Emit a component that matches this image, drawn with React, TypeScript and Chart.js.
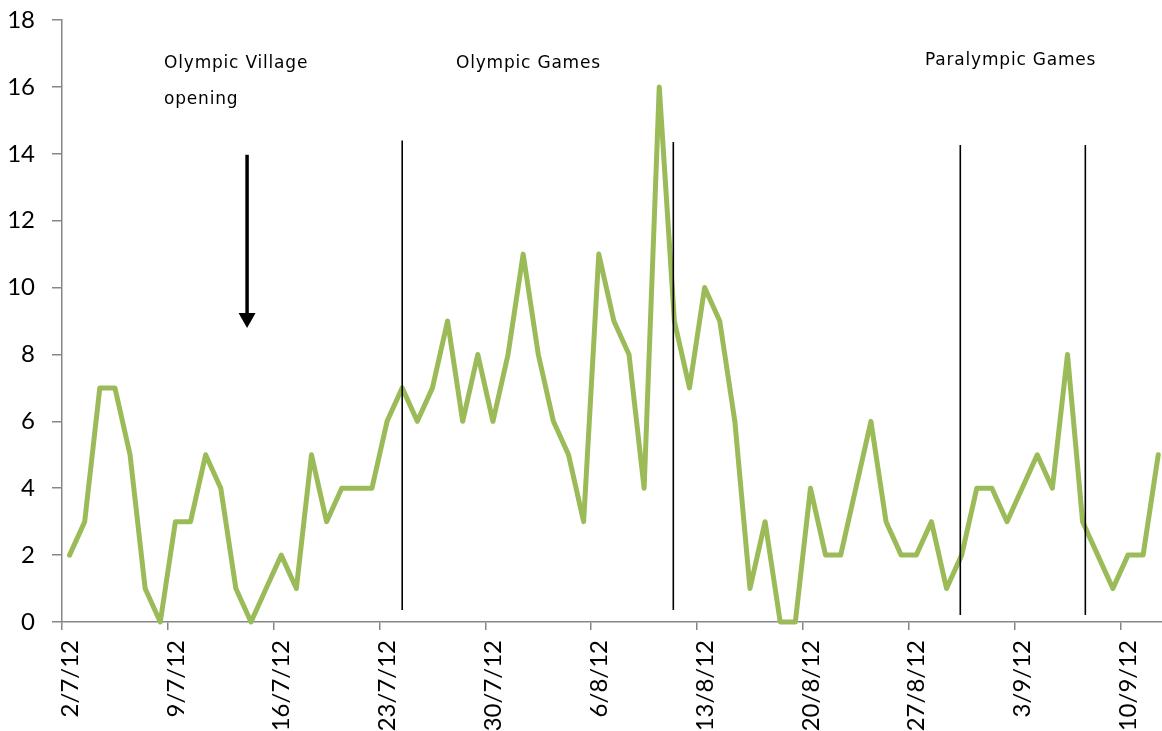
import React, { useEffect, useRef } from "react";
import { Chart, registerables } from "chart.js";

Chart.register(...registerables);

// Daily counts, 2/7/12 .. 12/9/12
const dailyValues = [
  2, 3, 7, 7, 5, 1, 0, 3, 3, 5, 4, 1, 0, 1, 2, 1, 5, 3, 4, 4, 4, 6, 7,
  6, 7, 9, 6, 8, 6, 8, 11, 8, 6, 5, 3, 11, 9, 8, 4, 16, 9, 7, 10, 9, 6, 1, 3, 0,
  0, 4, 2, 2, 4, 6, 3, 2, 2, 3, 1, 2, 4, 4, 3, 4, 5, 4, 8, 3, 2, 1, 2, 2, 5,
];

const tickLabels = [
  "2/7/12", "9/7/12", "16/7/12", "23/7/12", "30/7/12", "6/8/12",
  "13/8/12", "20/8/12", "27/8/12", "3/9/12", "10/9/12",
];
const tickStepDays = 7;

const yTicks = [0, 2, 4, 6, 8, 10, 12, 14, 16, 18];

// Annotations in data coordinates (x in days from 2/7/12, y in axis units)
const markerLines = [
  { x: 22.5, top: 14.4, bottom: 0.36 },
  { x: 40.43, top: 14.35, bottom: 0.36 },
  { x: 59.41, top: 14.26, bottom: 0.21 },
  { x: 67.68, top: 14.26, bottom: 0.21 },
];
const notes = [
  { text: "Olympic Village", x: 6.75, y: 16.57 },
  { text: "opening", x: 6.75, y: 15.49 },
  { text: "Olympic Games", x: 26.06, y: 16.57 },
  { text: "Paralympic Games", x: 57.08, y: 16.66 },
];
const arrow = { x: 12.24, top: 13.97, tip: 8.79 };

const annotationPlugin = {
  id: "eventAnnotations",
  afterDatasetsDraw(chart: any) {
    const { ctx, scales } = chart;
    const xs = scales.x;
    const ys = scales.y;
    ctx.save();
    ctx.strokeStyle = "#000";
    ctx.lineWidth = 1.6;
    for (const m of markerLines) {
      const px = xs.getPixelForValue(m.x);
      ctx.beginPath();
      ctx.moveTo(px, ys.getPixelForValue(m.top));
      ctx.lineTo(px, ys.getPixelForValue(m.bottom));
      ctx.stroke();
    }
    // arrow
    const ax = xs.getPixelForValue(arrow.x);
    const aTop = ys.getPixelForValue(arrow.top);
    const aTip = ys.getPixelForValue(arrow.tip);
    const headH = 15;
    const headW = 17;
    ctx.lineWidth = 3.5;
    ctx.beginPath();
    ctx.moveTo(ax, aTop);
    ctx.lineTo(ax, aTip - headH + 2);
    ctx.stroke();
    ctx.fillStyle = "#000";
    ctx.beginPath();
    ctx.moveTo(ax - headW / 2, aTip - headH);
    ctx.lineTo(ax + headW / 2, aTip - headH);
    ctx.lineTo(ax, aTip);
    ctx.closePath();
    ctx.fill();
    // texts
    ctx.font = '17px "DejaVu Sans"';
    (ctx as any).letterSpacing = "0.8px";
    ctx.textAlign = "left";
    ctx.textBaseline = "alphabetic";
    for (const n of notes) {
      ctx.fillText(n.text, xs.getPixelForValue(n.x), ys.getPixelForValue(n.y));
    }
    ctx.restore();
  },
};

export default function App() {
  const ref = useRef<HTMLCanvasElement | null>(null);

  useEffect(() => {
    document.body.style.margin = "0";
    if (!ref.current) return;
    const points = dailyValues.map((v, i) => ({ x: i + 0.5, y: v }));
    const tickFont = { family: "Lato", size: 24 };
    const chart = new Chart(ref.current, {
      type: "line",
      data: {
        datasets: [
          {
            data: points,
            borderColor: "#9BBB59",
            borderWidth: 5,
            pointRadius: 0,
            tension: 0,
            fill: false,
            clip: false as any,
            borderJoinStyle: "round",
            borderCapStyle: "round",
          },
        ],
      },
      options: {
        responsive: false,
        animation: false,
        events: [],
        layout: { padding: { top: 20, right: 0, left: 0, bottom: 0 } },
        plugins: {
          legend: { display: false },
          tooltip: { enabled: false },
        },
        scales: {
          x: {
            type: "linear",
            min: 0,
            max: 72.75,
            afterBuildTicks: (scale: any) => {
              scale.ticks = tickLabels.map((_, i) => ({ value: i * tickStepDays }));
            },
            afterFit: (scale: any) => {
              scale.height = 109;
              scale.paddingLeft = 0;
              scale.paddingRight = 0;
            },
            ticks: {
              autoSkip: false,
              minRotation: 90,
              maxRotation: 90,
              padding: 10,
              labelOffset: 8,
              color: "#000",
              font: tickFont,
              callback: (value: any) => {
                const idx = Math.round(Number(value) / tickStepDays);
                return tickLabels[idx] ?? "";
              },
            },
            grid: {
              drawOnChartArea: false,
              drawTicks: true,
              tickLength: 8,
              color: "#868686",
              lineWidth: 1.5,
            },
            border: { color: "#868686", width: 1.5 },
          },
          y: {
            min: 0,
            max: 18,
            afterBuildTicks: (scale: any) => {
              scale.ticks = yTicks.map((v) => ({ value: v }));
            },
            afterFit: (scale: any) => {
              scale.width = 62;
              scale.paddingTop = 0;
              scale.paddingBottom = 0;
            },
            ticks: {
              padding: 17,
              color: "#000",
              font: tickFont,
            },
            grid: {
              drawOnChartArea: false,
              drawTicks: true,
              tickLength: 10,
              color: "#868686",
              lineWidth: 1.5,
            },
            border: { color: "#868686", width: 1.5 },
          },
        },
      },
      plugins: [annotationPlugin],
    });
    return () => chart.destroy();
  }, []);

  return <canvas ref={ref} width={1162} height={731} style={{ display: "block" }} />;
}
